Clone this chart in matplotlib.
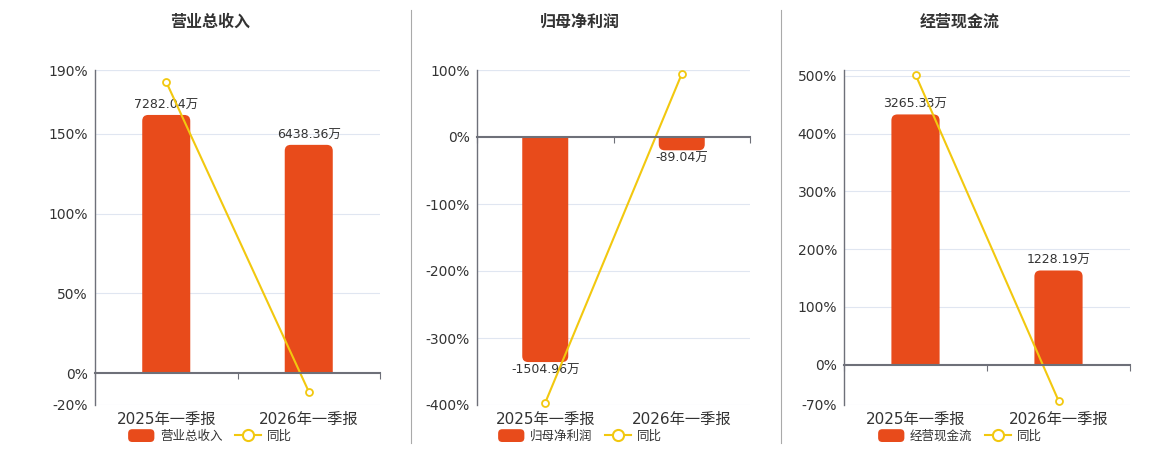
import matplotlib
matplotlib.use('Agg')

import matplotlib.pyplot as plt
from matplotlib.path import Path
from matplotlib.patches import PathPatch, Patch, FancyBboxPatch
from matplotlib.lines import Line2D
from matplotlib.legend_handler import HandlerPatch

plt.rcParams['font.family'] = ['DejaVu Sans', 'Noto Sans CJK SC']

# data
periods = ['2025年一季报', '2026年一季报']
titles = ['营业总收入', '归母净利润', '经营现金流']
bar_values = [[7282.04, 6438.36], [-1504.96, -89.04], [3265.33, 1228.19]]
yoy_values = [[182.5, -11.59], [-396.6, 94.08], [502.0, -62.39]]
y_ticks = [[-20, 0, 50, 100, 150, 190],
           [-400, -300, -200, -100, 0, 100],
           [-70, 0, 100, 200, 300, 400, 500]]
yoy_label = '同比'

# layout (pixels)
W, H = 1160, 450
panel_px = [(95, 380), (477, 750), (844, 1130)]
top_px, bot_px = 70, 405
y_lims = [(-20, 190), (-400, 100), (-70, 510)]
wan_per_pct = [45.0, 4.48, 7.54]   # hidden bar axis scale
centers = [210, 580, 960]
dividers = [410.5, 780.5]

bar_color = '#e84b1b'
line_color = '#f2c80f'
axis_color = '#6e7079'
grid_color = '#e0e6f1'
text_color = '#333333'
bar_w = 0.337
radius_px = 6


def rounded_bar(ax, rect, ax_w, ax_h):
    x0 = rect.get_x()
    x1 = x0 + rect.get_width()
    h = rect.get_height()
    xl, xh = ax.get_xlim()
    yl, yh = ax.get_ylim()
    rx = radius_px * (xh - xl) / ax_w
    ry = radius_px * (yh - yl) / ax_h
    s = 1 if h >= 0 else -1
    verts = [(x0, 0), (x0, h - s * ry), (x0, h), (x0 + rx, h),
             (x1 - rx, h), (x1, h), (x1, h - s * ry), (x1, 0), (x0, 0)]
    codes = [Path.MOVETO, Path.LINETO, Path.CURVE3, Path.CURVE3,
             Path.LINETO, Path.CURVE3, Path.CURVE3, Path.LINETO, Path.CLOSEPOLY]
    ax.add_patch(PathPatch(Path(verts, codes), facecolor=rect.get_facecolor(),
                           edgecolor='none'))
    rect.remove()


def round_patch(legend, orig_handle, xdescent, ydescent, width, height, fontsize):
    return FancyBboxPatch((-xdescent, -ydescent), width, height,
                          boxstyle='round,pad=0,rounding_size=3')


fig = plt.figure(figsize=(W / 100, H / 100), dpi=100)

for i in range(3):
    x0, x1 = panel_px[i]
    rect = [x0 / W, 1 - bot_px / H, (x1 - x0) / W, (bot_px - top_px) / H]
    lo, hi = y_lims[i]
    k = wan_per_pct[i]

    # base layer: grid, y labels, x labels
    ax = fig.add_axes(rect)
    ax.set_xlim(-0.5, 1.5)
    ax.set_ylim(lo, hi)
    for t in y_ticks[i] + [hi]:
        if t != 0:
            ax.axhline(t, color=grid_color, lw=0.8, zorder=0)
    ax.set_yticks(y_ticks[i])
    ax.set_yticklabels([f'{t}%' for t in y_ticks[i]])
    ax.set_xticks([0, 1])
    ax.set_xticklabels(periods)
    ax.tick_params(axis='y', length=0, pad=5, labelsize=10, labelcolor=text_color)
    ax.tick_params(axis='x', length=0, pad=5, labelsize=11, labelcolor=text_color)
    for side in ['top', 'right', 'bottom']:
        ax.spines[side].set_visible(False)
    ax.spines['left'].set_color(axis_color)
    ax.spines['left'].set_linewidth(1.0)

    # bars on a hidden axis
    axb = fig.add_axes(rect)
    axb.set_xlim(-0.5, 1.5)
    axb.set_ylim(lo * k, hi * k)
    axb.axis('off')
    bars = axb.bar(range(len(periods)), bar_values[i], width=bar_w, color=bar_color)
    for r, v in zip(bars, bar_values[i]):
        rounded_bar(axb, r, x1 - x0, bot_px - top_px)
        if v >= 0:
            axb.annotate(f'{v:.2f}万', (r.get_x() + r.get_width() / 2, v),
                         xytext=(0, 2.5), textcoords='offset points',
                         ha='center', va='bottom', fontsize=9, color=text_color)
        else:
            axb.annotate(f'{v:.2f}万', (r.get_x() + r.get_width() / 2, v),
                         xytext=(0, -1), textcoords='offset points',
                         ha='center', va='top', fontsize=9, color=text_color)

    # top layer: zero axis and yoy line
    axl = fig.add_axes(rect)
    axl.set_xlim(-0.5, 1.5)
    axl.set_ylim(lo, hi)
    axl.patch.set_visible(False)
    for side in ['top', 'right', 'left']:
        axl.spines[side].set_visible(False)
    axl.spines['bottom'].set_position(('data', 0))
    axl.spines['bottom'].set_color(axis_color)
    axl.spines['bottom'].set_linewidth(1.5)
    axl.set_yticks([])
    axl.set_xticks([-0.5, 0.5, 1.5])
    axl.set_xticklabels([])
    axl.tick_params(axis='x', length=4, width=0.8, color=axis_color, direction='out')
    axl.plot(range(len(periods)), yoy_values[i], color=line_color, lw=1.5,
             marker='o', ms=5, mfc='white', mec=line_color, mew=1.3, clip_on=False)

    fig.text(centers[i] / W, 1 - 22 / H, titles[i], ha='center', va='center',
             fontsize=11.5, fontweight='bold', color=text_color)

    handles = [Patch(facecolor=bar_color, label=titles[i]),
               Line2D([], [], color=line_color, lw=1.5, marker='o', ms=8,
                      mfc='white', mec=line_color, mew=1.5, label=yoy_label)]
    fig.legend(handles=handles, loc='center', bbox_to_anchor=(centers[i] / W, 1 - 436 / H),
               ncol=2, frameon=False, fontsize=9, labelcolor=text_color,
               handlelength=2.1, handleheight=1.2, handletextpad=0.45,
               columnspacing=1.0, borderpad=0,
               handler_map={Patch: HandlerPatch(patch_func=round_patch)})

for x in dividers:
    fig.add_artist(Line2D([x / W, x / W], [1 - 10 / H, 1 - 443 / H],
                          color='#aaaaaa', lw=0.8))

fig.savefig('out.png', dpi=100)
